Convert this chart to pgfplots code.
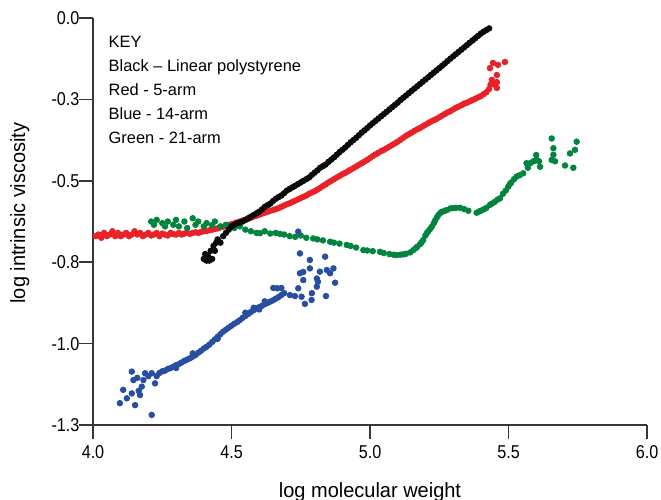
\documentclass[border=0pt]{standalone}
\usepackage{fontspec}
\setmainfont{Liberation Sans}[FakeStretch=0.87]
\newfontfamily\labelfont{Liberation Sans}[FakeStretch=0.97]
\newfontfamily\keyfont{Liberation Sans}[Ligatures=TeX]
\usepackage{pgfplots}
\pgfplotsset{compat=1.18}
\definecolor{cred}{RGB}{232,34,40}
\definecolor{cblue}{RGB}{40,78,160}
\definecolor{cgreen}{RGB}{0,132,62}
\definecolor{cblack}{RGB}{10,10,10}
\definecolor{axgray}{RGB}{55,55,55}
\begin{document}
\fontsize{9.3}{11}\selectfont
\begin{tikzpicture}
\begin{axis}[
 scale only axis, width=277pt, height=203.5pt,
 xmin=4, xmax=6, ymin=-1.25, ymax=0,
 axis x line*=bottom, axis y line*=left,
 axis line style={-, line width=0.8pt, axgray},
 xtick pos=bottom, ytick pos=left,
 xtick={4,4.5,5,5.5,6}, xticklabels={4.0,4.5,5.0,5.5,6.0},
 ytick={0,-0.25,-0.5,-0.75,-1,-1.25}, yticklabels={0.0,-0.3,-0.5,-0.8,-1.0,-1.3},
 tick align=outside, major tick length=7pt,
 tick style={draw=axgray, line width=0.8pt},
 xticklabel style={font=\fontsize{9.3}{11}\selectfont},
 yticklabel style={font=\fontsize{9.3}{11}\selectfont, xshift=3.5pt},
 xlabel={log molecular weight}, ylabel={log intrinsic viscosity},
 xlabel style={at={(axis description cs:0.5,0)}, anchor=base, yshift=-36pt, font=\labelfont\fontsize{10.3}{12}\selectfont},
 ylabel style={at={(axis description cs:-0.132,0.521)}, anchor=center, font=\labelfont\fontsize{10.3}{12}\selectfont},
 clip=false,
 every axis plot/.append style={only marks, mark=*, mark size=1.4pt},
]
\coordinate (bl) at (rel axis cs:0,0);
\coordinate (tr) at (rel axis cs:1,1);
% tick marks (decoration)
\pgfplotsinvokeforeach{4,4.5,5,5.5,6}{\draw[axgray, line width=0.8pt] (axis cs:#1,-1.25) -- ([yshift=-6.5pt]axis cs:#1,-1.25);}
\pgfplotsinvokeforeach{0,-0.25,-0.5,-0.75,-1,-1.25}{\draw[axgray, line width=0.8pt] (axis cs:4,#1) -- ([xshift=-7pt]axis cs:4,#1);}
% Red - 5-arm
\addplot[cred, mark options={draw=cred, fill=cred}] coordinates {
(4.01,-0.67)(4.02,-0.665)(4.03,-0.675)(4.04,-0.66)(4.05,-0.67)(4.06,-0.665)(4.07,-0.655)(4.08,-0.67)(4.09,-0.66)(4.10,-0.67)
(4.11,-0.665)(4.12,-0.66)(4.13,-0.67)(4.14,-0.665)(4.15,-0.655)(4.16,-0.665)(4.17,-0.66)(4.18,-0.67)(4.19,-0.665)(4.20,-0.66)
(4.21,-0.668)(4.22,-0.665)(4.23,-0.66)(4.24,-0.67)(4.25,-0.662)(4.26,-0.665)(4.27,-0.668)(4.28,-0.66)(4.29,-0.664)(4.30,-0.665)
(4.31,-0.66)(4.32,-0.665)(4.33,-0.662)(4.34,-0.66)(4.35,-0.663)(4.36,-0.66)(4.37,-0.658)(4.38,-0.66)(4.39,-0.657)(4.40,-0.655)
(4.41,-0.654)(4.42,-0.652)(4.43,-0.65)(4.44,-0.648)(4.45,-0.646)(4.46,-0.643)(4.47,-0.641)(4.48,-0.638)(4.49,-0.636)(4.50,-0.633)
(4.51,-0.631)(4.52,-0.628)(4.53,-0.625)(4.54,-0.622)(4.55,-0.62)(4.56,-0.617)(4.57,-0.613)(4.58,-0.61)(4.59,-0.607)(4.60,-0.604)
(4.61,-0.601)(4.62,-0.598)(4.63,-0.595)(4.64,-0.592)(4.65,-0.59)(4.66,-0.587)(4.67,-0.584)(4.68,-0.58)(4.69,-0.576)(4.70,-0.572)
(4.71,-0.569)(4.72,-0.565)(4.73,-0.561)(4.74,-0.557)(4.75,-0.553)(4.76,-0.549)(4.77,-0.545)(4.78,-0.54)(4.79,-0.536)(4.80,-0.532)
(4.81,-0.527)(4.82,-0.522)(4.83,-0.516)(4.84,-0.511)(4.85,-0.505)(4.86,-0.50)(4.87,-0.495)(4.88,-0.49)(4.89,-0.485)(4.90,-0.48)
(4.91,-0.476)(4.92,-0.471)(4.93,-0.466)(4.94,-0.461)(4.95,-0.456)(4.96,-0.451)(4.97,-0.446)(4.98,-0.441)(4.99,-0.436)(5.00,-0.43)
(5.01,-0.424)(5.02,-0.419)(5.03,-0.414)(5.04,-0.409)(5.05,-0.405)(5.06,-0.40)(5.07,-0.395)(5.08,-0.39)(5.09,-0.385)(5.10,-0.38)
(5.11,-0.374)(5.12,-0.368)(5.13,-0.362)(5.14,-0.357)(5.15,-0.352)(5.16,-0.347)(5.17,-0.342)(5.18,-0.338)(5.19,-0.333)(5.20,-0.328)
(5.21,-0.323)(5.22,-0.318)(5.23,-0.314)(5.24,-0.31)(5.25,-0.305)(5.26,-0.30)(5.27,-0.295)(5.28,-0.29)(5.29,-0.286)(5.30,-0.281)
(5.31,-0.276)(5.32,-0.272)(5.33,-0.268)(5.34,-0.263)(5.35,-0.26)(5.36,-0.256)(5.37,-0.252)(5.38,-0.248)(5.39,-0.244)(5.40,-0.24)
(5.41,-0.234)(5.42,-0.228)(5.43,-0.218)(5.435,-0.205)
(5.433,-0.154)(5.444,-0.138)(5.462,-0.144)(5.487,-0.135)(5.458,-0.175)(5.458,-0.197)(5.458,-0.215)(5.44,-0.19)(5.45,-0.205)
};
% Green - 21-arm
\addplot[cgreen, mark options={draw=cgreen, fill=cgreen}] coordinates {
(4.21,-0.625)(4.22,-0.635)(4.23,-0.62)(4.25,-0.63)(4.26,-0.64)(4.27,-0.625)(4.29,-0.635)(4.30,-0.62)(4.31,-0.64)(4.33,-0.625)
(4.34,-0.645)(4.36,-0.615)(4.37,-0.635)(4.38,-0.625)(4.40,-0.64)(4.41,-0.63)(4.43,-0.636)(4.44,-0.625)(4.46,-0.64)(4.48,-0.635)
(4.495,-0.641)(4.51,-0.645)(4.53,-0.64)(4.55,-0.65)(4.57,-0.655)(4.59,-0.66)(4.603,-0.661)(4.62,-0.655)(4.64,-0.662)(4.66,-0.66)
(4.675,-0.663)(4.69,-0.665)(4.71,-0.67)(4.73,-0.672)(4.75,-0.668)(4.77,-0.675)(4.795,-0.677)(4.81,-0.68)(4.83,-0.683)(4.856,-0.687)
(4.87,-0.69)(4.89,-0.693)(4.916,-0.697)(4.93,-0.70)(4.95,-0.705)(4.976,-0.713)(4.99,-0.714)(5.01,-0.716)(5.036,-0.718)(5.05,-0.722)
(5.07,-0.725)(5.085,-0.727)(5.096,-0.728)(5.11,-0.727)(5.12,-0.726)(5.13,-0.724)(5.145,-0.72)(5.156,-0.713)(5.165,-0.707)(5.17,-0.703)
(5.18,-0.695)(5.186,-0.689)(5.192,-0.682)(5.20,-0.668)(5.205,-0.661)(5.21,-0.655)(5.217,-0.648)(5.223,-0.641)(5.23,-0.631)(5.235,-0.622)
(5.241,-0.613)(5.247,-0.605)(5.255,-0.598)(5.26,-0.595)(5.27,-0.592)(5.277,-0.59)(5.29,-0.585)(5.30,-0.584)(5.31,-0.583)(5.325,-0.583)
(5.34,-0.587)(5.355,-0.592)(5.385,-0.598)(5.395,-0.594)(5.40,-0.592)(5.41,-0.588)(5.42,-0.583)(5.433,-0.574)(5.44,-0.57)(5.45,-0.565)
(5.46,-0.558)(5.469,-0.554)(5.48,-0.54)(5.49,-0.53)(5.499,-0.518)(5.505,-0.51)(5.51,-0.505)(5.52,-0.495)(5.529,-0.487)(5.54,-0.483)
(5.553,-0.477)(5.565,-0.446)(5.57,-0.46)(5.58,-0.445)(5.59,-0.44)(5.601,-0.436)(5.614,-0.457)(5.60,-0.421)(5.61,-0.44)
(5.656,-0.37)(5.662,-0.40)(5.662,-0.42)(5.656,-0.436)(5.668,-0.44)(5.704,-0.453)(5.734,-0.46)(5.722,-0.416)(5.740,-0.405)(5.746,-0.38)
};
% Blue - 14-arm
\addplot[cblue, mark options={draw=cblue, fill=cblue}] coordinates {
(4.097,-1.183)(4.109,-1.142)(4.122,-1.168)(4.140,-1.086)(4.146,-1.112)(4.14,-1.153)(4.152,-1.189)(4.170,-1.158)(4.176,-1.132)(4.188,-1.091)
(4.212,-1.219)(4.212,-1.091)(4.224,-1.122)(4.182,-1.112)(4.160,-1.105)(4.165,-1.145)(4.20,-1.10)(4.23,-1.10)
(4.24,-1.09)(4.25,-1.085)(4.26,-1.083)(4.27,-1.078)(4.28,-1.075)(4.29,-1.071)(4.30,-1.066)(4.31,-1.063)(4.32,-1.058)(4.33,-1.053)
(4.34,-1.049)(4.35,-1.045)(4.36,-1.04)(4.37,-1.035)(4.38,-1.028)(4.39,-1.022)(4.40,-1.015)(4.41,-1.01)(4.42,-1.003)(4.43,-0.995)
(4.44,-0.987)(4.45,-0.979)(4.46,-0.971)(4.47,-0.963)(4.48,-0.957)(4.49,-0.951)(4.50,-0.945)(4.51,-0.939)(4.52,-0.934)(4.53,-0.928)
(4.54,-0.921)(4.55,-0.915)(4.56,-0.909)(4.57,-0.903)(4.58,-0.897)(4.59,-0.892)(4.60,-0.888)(4.61,-0.884)(4.62,-0.879)(4.63,-0.875)
(4.64,-0.871)(4.65,-0.867)(4.66,-0.862)(4.67,-0.857)(4.68,-0.851)(4.69,-0.845)
(4.651,-0.829)(4.68,-0.829)(4.665,-0.83)(4.30,-1.075)(4.36,-1.03)(4.45,-0.985)(4.55,-0.905)(4.60,-0.895)(4.58,-0.890)(4.62,-0.870)
(4.711,-0.851)(4.729,-0.854)(4.741,-0.830)(4.747,-0.784)(4.759,-0.78)(4.747,-0.723)(4.759,-0.805)(4.753,-0.856)(4.765,-0.878)(4.783,-0.743)
(4.783,-0.769)(4.789,-0.866)(4.808,-0.825)(4.808,-0.80)(4.819,-0.779)(4.838,-0.733)(4.844,-0.774)(4.856,-0.784)(4.868,-0.769)(4.874,-0.813)
(4.841,-0.854)(4.812,-0.81)(4.79,-0.845)(4.741,-0.656)
};
% Black - linear polystyrene
\addplot[cblack, mark options={draw=cblack, fill=cblack}] coordinates {
(4.40,-0.74)(4.405,-0.725)(4.41,-0.745)(4.415,-0.73)(4.42,-0.745)(4.425,-0.715)(4.43,-0.74)(4.435,-0.70)(4.44,-0.715)(4.445,-0.69)
(4.45,-0.68)(4.46,-0.69)(4.47,-0.67)(4.48,-0.66)(4.49,-0.65)(4.50,-0.64)(4.51,-0.635)(4.52,-0.63)(4.53,-0.628)(4.54,-0.625)
(4.55,-0.62)(4.56,-0.615)(4.57,-0.61)(4.58,-0.605)(4.59,-0.60)(4.60,-0.595)(4.61,-0.588)(4.62,-0.58)(4.63,-0.575)(4.64,-0.57)
(4.65,-0.562)(4.66,-0.555)(4.67,-0.55)(4.68,-0.545)(4.69,-0.538)(4.70,-0.53)(4.71,-0.525)(4.72,-0.52)(4.73,-0.515)(4.74,-0.51)
(4.75,-0.505)(4.76,-0.50)(4.77,-0.495)(4.78,-0.49)(4.79,-0.482)(4.80,-0.475)(4.81,-0.468)(4.82,-0.46)(4.83,-0.455)(4.84,-0.45)
(4.85,-0.442)(4.86,-0.435)(4.87,-0.428)(4.88,-0.42)(4.89,-0.412)(4.90,-0.405)(4.91,-0.398)(4.92,-0.39)(4.93,-0.382)(4.94,-0.375)
(4.95,-0.368)(4.96,-0.36)(4.97,-0.352)(4.98,-0.345)(4.99,-0.338)(5.00,-0.33)(5.01,-0.323)(5.02,-0.316)(5.03,-0.309)(5.04,-0.302)
(5.05,-0.295)(5.06,-0.288)(5.07,-0.281)(5.08,-0.274)(5.09,-0.267)(5.10,-0.26)(5.11,-0.252)(5.12,-0.245)(5.13,-0.238)(5.14,-0.231)
(5.15,-0.224)(5.16,-0.217)(5.17,-0.21)(5.18,-0.203)(5.19,-0.196)(5.20,-0.189)(5.21,-0.182)(5.22,-0.175)(5.23,-0.168)(5.24,-0.161)
(5.25,-0.154)(5.26,-0.147)(5.27,-0.14)(5.28,-0.132)(5.29,-0.125)(5.30,-0.118)(5.31,-0.111)(5.32,-0.104)(5.33,-0.097)(5.34,-0.09)
(5.35,-0.083)(5.36,-0.076)(5.37,-0.069)(5.38,-0.062)(5.39,-0.055)(5.40,-0.048)(5.41,-0.042)(5.42,-0.037)(5.43,-0.032)
};
\begin{scope}[every node/.style={anchor=base west, inner sep=0pt, font=\keyfont\fontsize{8.2}{10}\selectfont}]
\node at ([xshift=7.65pt,yshift=-14.65pt]rel axis cs:0,1) {KEY};
\node at ([xshift=7.65pt,yshift=-26.65pt]rel axis cs:0,1) {Black -- Linear polystyrene};
\node at ([xshift=7.65pt,yshift=-38.65pt]rel axis cs:0,1) {Red - 5-arm};
\node at ([xshift=7.65pt,yshift=-50.65pt]rel axis cs:0,1) {Blue - 14-arm};
\node at ([xshift=7.65pt,yshift=-62.65pt]rel axis cs:0,1) {Green - 21-arm};
\end{scope}
\end{axis}
\pgfresetboundingbox
\path[use as bounding box] ([xshift=-46.5pt,yshift=-37pt]bl) rectangle ([xshift=7pt,yshift=9pt]tr);
\end{tikzpicture}
\end{document}
